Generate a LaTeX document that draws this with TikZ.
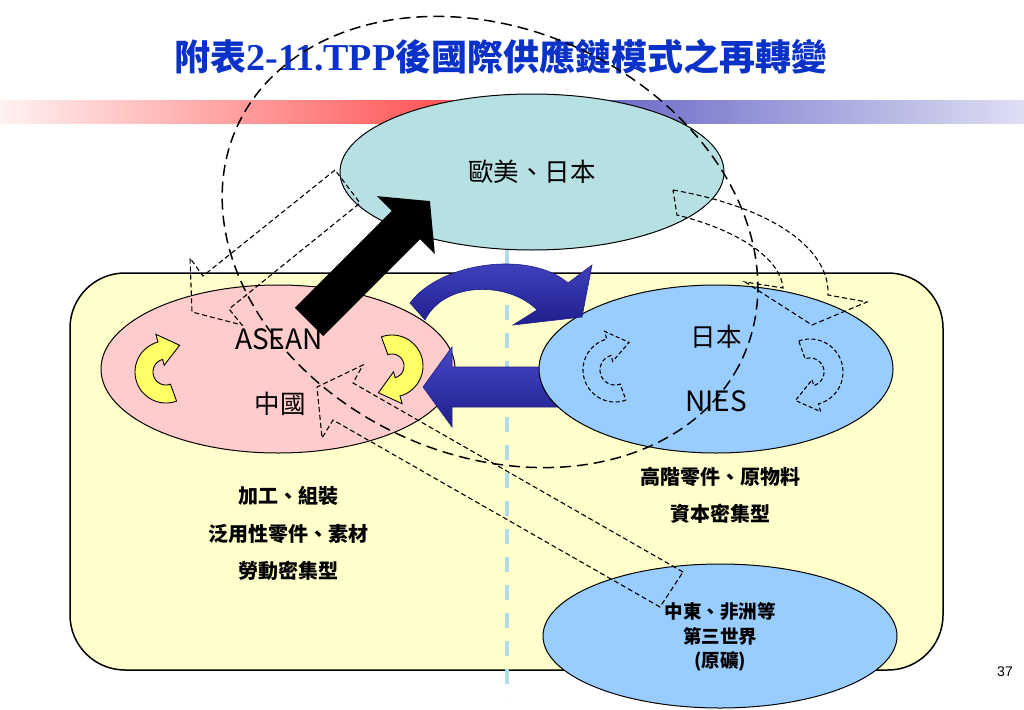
\documentclass[tikz,border=0pt]{standalone}
\usepackage{fontspec}
\usetikzlibrary{shapes.geometric}
\setmainfont{Liberation Sans}
\newfontfamily\cjk{Noto Sans CJK TC}
\newfontfamily\titlelat{Liberation Serif}
\definecolor{titleblue}{RGB}{10,50,200}
\definecolor{boxyellow}{RGB}{255,255,204}
\definecolor{topteal}{RGB}{183,224,227}
\definecolor{aseanpink}{RGB}{255,204,204}
\definecolor{skyblue}{RGB}{153,204,255}
\definecolor{vlineblue}{RGB}{176,220,232}
\definecolor{arrowyellow}{RGB}{255,255,102}
\definecolor{abluelight}{RGB}{72,72,200}
\definecolor{abluedark}{RGB}{30,30,140}
\definecolor{barred}{RGB}{255,60,60}
\definecolor{barpink}{RGB}{255,242,242}
\definecolor{barblue}{RGB}{80,80,190}
\definecolor{barlav}{RGB}{222,222,244}
\tikzset{
  region/.style={ellipse, draw=black, line width=1pt, inner sep=0pt},
  lbl/.style={font=\cjk\fontsize{25.5}{28}\selectfont, inner sep=0pt},
  latlbl/.style={font=\cjk\fontsize{28}{30}\selectfont, inner sep=0pt},
  sub/.style={font=\cjk\bfseries\fontsize{20}{22}\selectfont, inner sep=0pt},
  dasharrow/.style={draw=black, line width=1.1pt, dash pattern=on 5pt off 3pt, line join=miter},
  bigdash/.style={draw=black, line width=1.5pt, dash pattern=on 11pt off 6pt},
  bluearrow/.style={top color=abluelight, bottom color=abluedark, draw=abluedark, line width=0.6pt},
  yarrow/.style={fill=arrowyellow, draw=black, line width=0.9pt},
  darrow/.style={draw=black, line width=1.1pt, dash pattern=on 4pt off 2.5pt},
}
\newcommand\circarr[7]{%
  \begin{scope}[shift={(#1,#2)}]
    \pgfmathsetmacro\crout{#3+8}
    \pgfmathsetmacro\crin{#4-6}
    \pgfmathsetmacro\crtip{#3-1}
    \pgfmathsetmacro\catip{#6+42}
    \path[#7] plot[domain=#5:#6, samples=40, smooth] (\x:#3) -- (#6:\crout) -- (\catip:\crtip) -- (#6:\crin) -- plot[domain=#6:#5, samples=40, smooth] (\x:#4) -- cycle;
  \end{scope}}
\begin{document}
\begin{tikzpicture}[x=1pt,y=-1pt]
\useasboundingbox[fill=white] (0,0) rectangle (1024,709);
% gradient bar
\shade[left color=barpink, right color=barred] (0,100) rectangle (512,123);
\shade[left color=barblue, right color=barlav] (512,100) rectangle (1024,123);
% title
\node[font=\cjk\bfseries\fontsize{36}{40}\selectfont, text=titleblue, inner sep=0pt] (title) at (501,57) {附表{\titlelat\fontsize{38}{40}\selectfont 2-11.TPP}後國際供應鏈模式之再轉變};
% yellow region
\node[draw=black, fill=boxyellow, line width=1.5pt, rounded corners=55pt, minimum width=873pt, minimum height=397pt, inner sep=0pt] (box) at (506.5,471.5) {};
% vertical divider
\draw[vlineblue, line width=3.5pt, dash pattern=on 15pt off 13pt] (507,249) -- (507,697);
% ellipses
\node[region, fill=topteal, minimum width=384pt, minimum height=156pt] (west) at (532,172) {};
\node[region, fill=aseanpink, minimum width=354pt, minimum height=168pt] (asean) at (278,369) {};
% straight blue arrow NIES -> ASEAN
\path[bluearrow] (560,367) -- (452,367) -- (452,347) -- (423,387) -- (452,427) -- (452,407) -- (560,407) -- cycle;
\node[region, fill=skyblue, minimum width=354pt, minimum height=168pt] (nies) at (716,369) {};
% curved blue arrow ASEAN -> NIES
\path[bluearrow] (410,303) .. controls (440,262) and (530,250) .. (568,283) -- (592,265) -- (582,317) -- (513,325) -- (537,310) .. controls (510,282) and (445,280) .. (425,320) -- cycle;
\node[region, fill=skyblue, minimum width=354pt, minimum height=144pt] (third) at (720,636) {};
% black arrow ASEAN -> west
\begin{scope}[shift={(309,322)}, rotate=45]
  \fill[black] (0,-20) -- (137,-20) -- (137,-41) -- (171,0) -- (137,41) -- (137,20) -- (0,20) -- cycle;
\end{scope}
% circular arrows
\circarr{166}{372}{31}{13}{70}{255}{yarrow}
\circarr{392}{366}{31}{12}{250}{435}{yarrow}
\circarr{615}{370}{32}{15}{70}{255}{darrow}
\circarr{810}{372}{33}{14}{250}{435}{darrow}
% labels
\node[lbl] (twest) at (532,172) {歐美、日本};
\node[latlbl] (tasean) at (279,339) {ASEAN};
\node[lbl] (tchina) at (280,404) {中國};
\node[lbl] (tjapan) at (716,337) {日本};
\node[latlbl] (tnies) at (716,401) {NIES};
\node[sub] (l1) at (288,496) {加工、組裝};
\node[sub] (l2) at (288,534) {泛用性零件、素材};
\node[sub] (l3) at (288,571) {勞動密集型};
\node[sub] (r1) at (720,477) {高階零件、原物料};
\node[sub] (r2) at (720,514) {資本密集型};
\node[font=\cjk\bfseries\fontsize{18.5}{24.5}\selectfont, align=center, inner sep=0pt] (tthird) at (720,637) {中東、非洲等\\第三世界\\(原礦)};
\node[font=\fontsize{14}{16}\selectfont, inner sep=0pt] (pg) at (1005,672) {37};
% dashed flow arrows
\draw[dasharrow] (335,170) -- (203,276) -- (190,258) -- (192,312) -- (242,325) -- (229,309) -- (360,203) -- cycle;
\draw[dasharrow] (683,572) -- (353,383) -- (363,365) -- (317,387) -- (322,438) -- (333,420) -- (660,607) -- cycle;
\draw[dasharrow] (673,190) .. controls (775,208) and (830,250) .. (828,295) -- (867,302) -- (812,325) -- (745,282) -- (783,288) .. controls (780,255) and (730,228) .. (677,215) -- cycle;
% big dashed loop
\draw[bigdash] plot[domain=0:360, samples=150, smooth cycle] ({490+278*cos(\x)*0.9092-213*sin(\x)*0.4163}, {242+278*cos(\x)*0.4163+213*sin(\x)*0.9092});
\end{tikzpicture}
\end{document}
